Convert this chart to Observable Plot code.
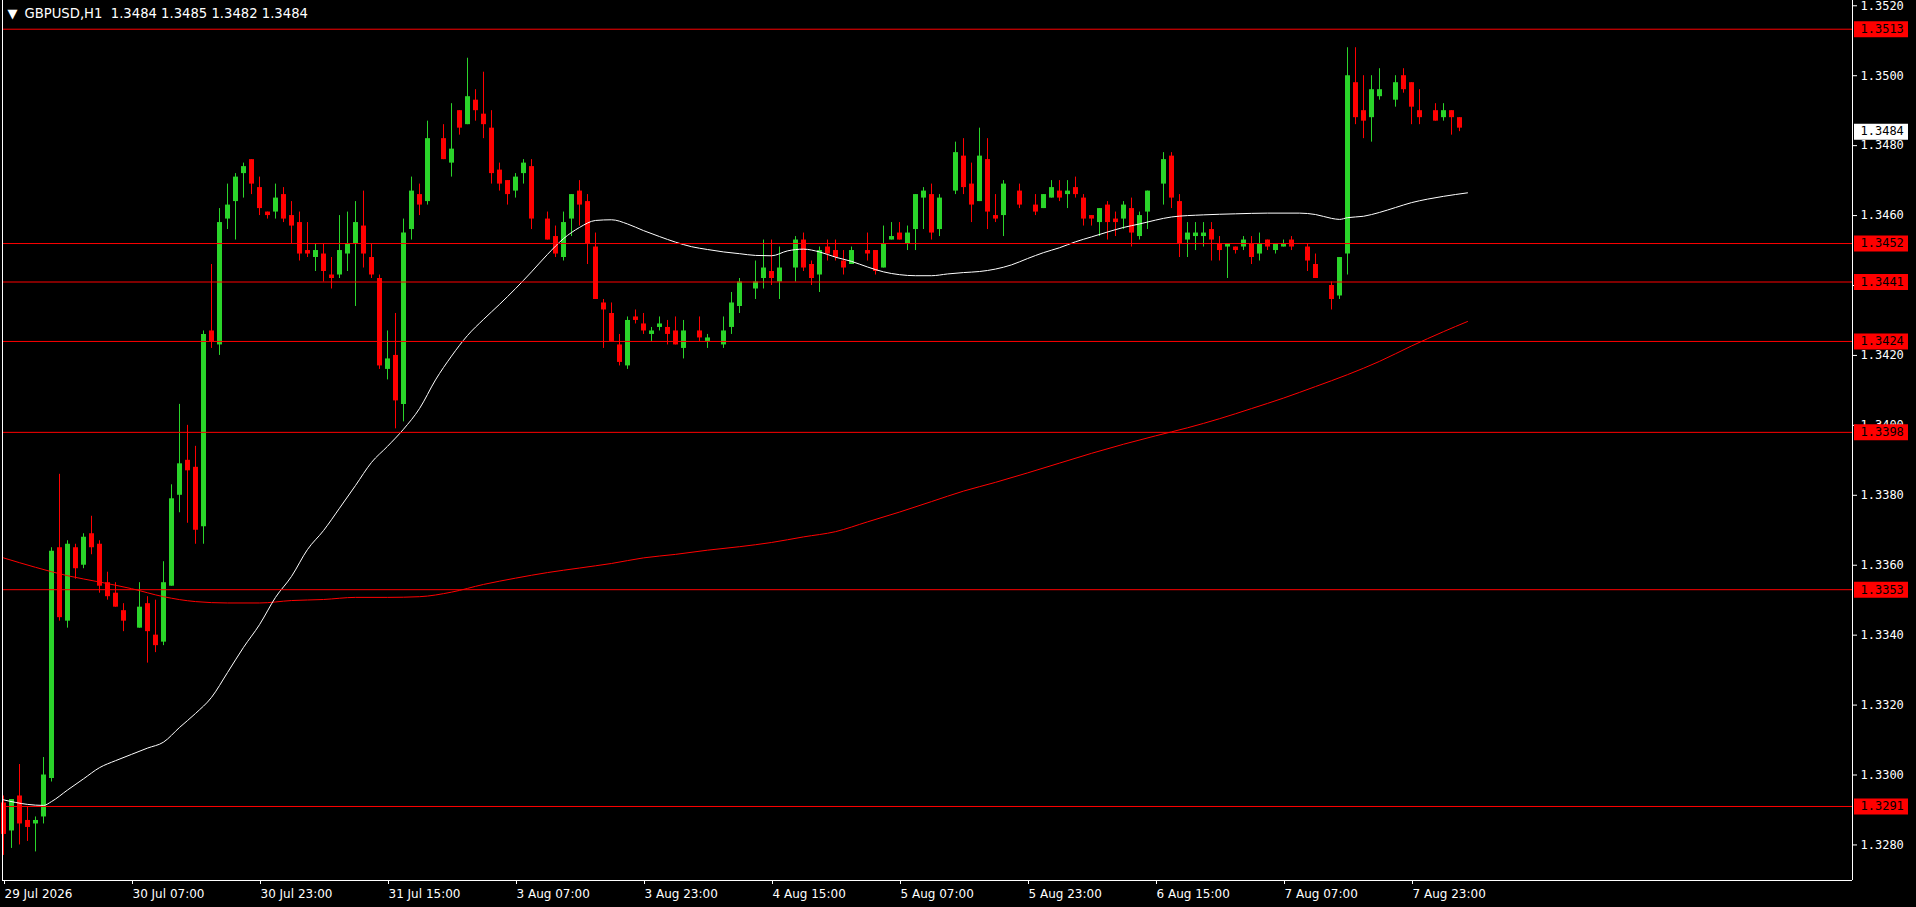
<!DOCTYPE html>
<html><head><meta charset="utf-8">
<script src="https://cdn.jsdelivr.net/npm/d3@7"></script>
<script src="https://cdn.jsdelivr.net/npm/@observablehq/plot@0.6"></script>
<style>
html,body{margin:0;padding:0;background:#000;overflow:hidden}
#chart{width:1916px;height:907px}
</style></head><body><div id="chart"></div>
<script>
// ---- data: GBPUSD H1 bars, index 0 = 29 Jul 2026 15:00 ----
const symbol = "GBPUSD,H1";
const open = [1.3292,1.3284,1.3294,1.3287,1.3286,1.3288,1.3299,1.3365,1.3344,1.3365,1.3360,1.3369,1.3366,1.3355,1.3352,1.3347,1.3343,1.3342,1.3349,1.3340,
1.3338,1.3354,1.3380,1.3390,1.3388,1.3371,1.3427,1.3423,1.3459,1.3464,1.3472,1.3476,1.3468,1.3461,1.3461,1.3466,1.3460,1.3458,1.3450,1.3448,
1.3449,1.3443,1.3443,1.3449,1.3452,1.3457,1.3448,1.3442,1.3416,1.3420,1.3406,1.3456,1.3466,1.3464,1.3482,1.3482,1.3475,1.3490,1.3486,1.3493,
1.3489,1.3485,1.3473,1.3470,1.3467,1.3472,1.3474,1.3459,1.3459,1.3454,1.3448,1.3459,1.3467,1.3464,1.3451,1.3435,1.3432,1.3423,1.3417,1.3431,
1.3429,1.3426,1.3428,1.3428,1.3427,1.3422,1.3427,1.3427,1.3424,1.3424,1.3423,1.3428,1.3434,1.3440,1.3439,1.3442,1.3444,1.3441,1.3445,1.3445,
1.3453,1.3446,1.3443,1.3451,1.3450,1.3447,1.3446,1.3450,1.3450,1.3450,1.3445,1.3453,1.3455,1.3452,1.3456,1.3465,1.3466,1.3456,1.3466,1.3467,
1.3477,1.3469,1.3464,1.3476,1.3460,1.3460,1.3468,1.3467,1.3463,1.3463,1.3462,1.3465,1.3467,1.3466,1.3468,1.3465,1.3460,1.3458,1.3463,1.3459,
1.3459,1.3462,1.3454,1.3461,1.3468,1.3469,1.3477,1.3464,1.3453,1.3454,1.3454,1.3456,1.3452,1.3451,1.3451,1.3451,1.3452,1.3449,1.3453,1.3450,
1.3451,1.3453,1.3451,1.3451,1.3446,1.3441,1.3440,1.3437,1.3449,1.3498,1.3490,1.3488,1.3494,1.3495,1.3493,1.3500,1.3498,1.3490,1.3489,1.3490,
1.3488,1.3490,1.3488,1.3484];
const high = [1.3294,1.3293,1.3303,1.3291,1.3288,1.3305,1.3365,1.3386,1.3367,1.3366,1.3369,1.3374,1.3367,1.3358,1.3355,1.3349,1.3343,1.3355,1.3351,1.3350,
1.3361,1.3383,1.3406,1.3400,1.3394,1.3427,1.3446,1.3462,1.3469,1.3472,1.3475,1.3476,1.3471,1.3461,1.3469,1.3468,1.3464,1.3461,1.3458,1.3452,
1.3452,1.3448,1.3460,1.3461,1.3464,1.3467,1.3452,1.3443,1.3427,1.3432,1.3459,1.3471,1.3469,1.3487,1.3482,1.3486,1.3492,1.3490,1.3505,1.3496,
1.3501,1.3490,1.3475,1.3470,1.3472,1.3476,1.3476,1.3459,1.3461,1.3457,1.3461,1.3466,1.3470,1.3466,1.3455,1.3436,1.3435,1.3426,1.3431,1.3433,
1.3432,1.3428,1.3431,1.3430,1.3431,1.3430,1.3427,1.3431,1.3426,1.3424,1.3431,1.3438,1.3442,1.3440,1.3447,1.3453,1.3453,1.3451,1.3445,1.3454,
1.3455,1.3447,1.3451,1.3453,1.3453,1.3450,1.3451,1.3450,1.3455,1.3450,1.3457,1.3458,1.3458,1.3457,1.3466,1.3468,1.3469,1.3466,1.3466,1.3481,
1.3482,1.3475,1.3485,1.3482,1.3466,1.3470,1.3468,1.3469,1.3463,1.3466,1.3466,1.3470,1.3470,1.3470,1.3471,1.3466,1.3460,1.3462,1.3464,1.3461,
1.3464,1.3465,1.3461,1.3467,1.3468,1.3478,1.3478,1.3466,1.3458,1.3458,1.3458,1.3458,1.3454,1.3452,1.3451,1.3454,1.3454,1.3455,1.3453,1.3452,
1.3453,1.3454,1.3451,1.3452,1.3449,1.3441,1.3441,1.3448,1.3508,1.3508,1.3500,1.3500,1.3502,1.3495,1.3500,1.3502,1.3498,1.3496,1.3489,1.3492,
1.3492,1.3490,1.3488,1.3485];
const low = [1.3277,1.3279,1.3280,1.3281,1.3278,1.3286,1.3298,1.3344,1.3342,1.3356,1.3359,1.3363,1.3352,1.3350,1.3348,1.3341,1.3343,1.3342,1.3332,1.3335,
1.3337,1.3354,1.3375,1.3372,1.3366,1.3366,1.3422,1.3420,1.3456,1.3453,1.3465,1.3466,1.3460,1.3459,1.3459,1.3458,1.3452,1.3447,1.3448,1.3444,
1.3441,1.3439,1.3442,1.3444,1.3434,1.3445,1.3442,1.3416,1.3413,1.3399,1.3401,1.3453,1.3460,1.3463,1.3482,1.3476,1.3471,1.3483,1.3486,1.3487,
1.3482,1.3469,1.3467,1.3463,1.3465,1.3469,1.3456,1.3459,1.3453,1.3448,1.3447,1.3454,1.3457,1.3446,1.3436,1.3422,1.3424,1.3417,1.3416,1.3429,
1.3426,1.3424,1.3427,1.3423,1.3423,1.3419,1.3427,1.3424,1.3422,1.3424,1.3422,1.3426,1.3432,1.3440,1.3436,1.3439,1.3440,1.3436,1.3445,1.3441,
1.3444,1.3440,1.3438,1.3447,1.3447,1.3443,1.3446,1.3450,1.3447,1.3443,1.3445,1.3453,1.3453,1.3450,1.3450,1.3456,1.3453,1.3454,1.3466,1.3466,
1.3466,1.3458,1.3464,1.3456,1.3458,1.3454,1.3468,1.3462,1.3463,1.3460,1.3462,1.3465,1.3464,1.3462,1.3465,1.3457,1.3457,1.3454,1.3453,1.3454,
1.3456,1.3451,1.3453,1.3456,1.3468,1.3463,1.3462,1.3448,1.3448,1.3450,1.3451,1.3447,1.3447,1.3442,1.3449,1.3450,1.3446,1.3447,1.3450,1.3449,
1.3451,1.3450,1.3451,1.3444,1.3442,1.3441,1.3433,1.3436,1.3443,1.3486,1.3482,1.3481,1.3493,1.3495,1.3491,1.3495,1.3486,1.3486,1.3489,1.3487,
1.3487,1.3483,1.3484,1.3482];
const close = [1.3283,1.3293,1.3286,1.3285,1.3287,1.3300,1.3364,1.3345,1.3366,1.3359,1.3368,1.3365,1.3354,1.3351,1.3348,1.3344,1.3343,1.3348,1.3341,1.3337,
1.3355,1.3379,1.3389,1.3387,1.3370,1.3426,1.3424,1.3458,1.3463,1.3471,1.3474,1.3469,1.3462,1.3460,1.3465,1.3459,1.3457,1.3449,1.3449,1.3450,
1.3444,1.3442,1.3450,1.3452,1.3458,1.3449,1.3443,1.3417,1.3419,1.3407,1.3455,1.3467,1.3463,1.3482,1.3482,1.3476,1.3479,1.3485,1.3494,1.3490,
1.3486,1.3472,1.3469,1.3466,1.3471,1.3475,1.3459,1.3459,1.3453,1.3449,1.3458,1.3466,1.3463,1.3452,1.3436,1.3433,1.3424,1.3418,1.3430,1.3430,
1.3427,1.3427,1.3429,1.3426,1.3423,1.3427,1.3427,1.3425,1.3425,1.3424,1.3427,1.3435,1.3441,1.3440,1.3441,1.3445,1.3442,1.3445,1.3445,1.3453,
1.3445,1.3442,1.3450,1.3449,1.3448,1.3445,1.3450,1.3450,1.3449,1.3444,1.3452,1.3454,1.3453,1.3455,1.3466,1.3467,1.3455,1.3465,1.3466,1.3478,
1.3468,1.3463,1.3477,1.3461,1.3459,1.3469,1.3468,1.3463,1.3463,1.3461,1.3466,1.3468,1.3465,1.3467,1.3466,1.3459,1.3459,1.3462,1.3458,1.3458,
1.3463,1.3455,1.3460,1.3467,1.3468,1.3476,1.3465,1.3452,1.3455,1.3455,1.3455,1.3453,1.3450,1.3452,1.3450,1.3453,1.3448,1.3452,1.3451,1.3452,
1.3452,1.3451,1.3451,1.3447,1.3442,1.3441,1.3436,1.3448,1.3500,1.3488,1.3487,1.3496,1.3496,1.3495,1.3498,1.3496,1.3491,1.3488,1.3489,1.3487,
1.3490,1.3488,1.3485,1.3484];

// moving averages (bar index -> value)
const fastIdx = [0,3,5,6,8,10,12,14,16,18,20,22,24,26,28,30,32,34,36,38,40,42,44,46,48,50,52,54,56,58,60,62,64,66,68,70,72,74,76,78,80,82,84,86,88,90,92,94,96,98,100,102,104,106,108,110,112,114,116,118,120,122,124,126,128,130,132,134,136,138,140,142,144,146,150,154,158,162,164,166,167,168,170,172,174,176,178,180,183];
const fastVal = [1.32929,1.32916,1.32913,1.32924,1.32957,1.32989,1.33021,1.33041,1.33059,1.33077,1.33094,1.33136,1.33176,1.33222,1.33293,1.33365,1.33430,1.33508,1.33568,1.33645,1.33699,1.33763,1.33828,1.33894,1.33940,1.33989,1.34048,1.34130,1.34198,1.34257,1.34303,1.34346,1.34391,1.34439,1.34489,1.34534,1.34566,1.34586,1.34588,1.34576,1.34557,1.34540,1.34524,1.34511,1.34503,1.34496,1.34491,1.34486,1.34485,1.34499,1.34504,1.34496,1.34481,1.34469,1.34453,1.34439,1.34431,1.34428,1.34428,1.34433,1.34437,1.34440,1.34447,1.34459,1.34477,1.34494,1.34508,1.34525,1.34539,1.34553,1.34566,1.34576,1.34587,1.34596,1.34602,1.34605,1.34607,1.34607,1.34603,1.34592,1.34589,1.34594,1.34598,1.34609,1.34623,1.34637,1.34647,1.34655,1.34665];
const slowIdx = [0,4,8,12,16,20,24,28,32,36,40,44,48,52,56,60,64,68,72,76,80,84,88,92,96,100,104,108,112,116,120,124,128,132,136,140,144,148,152,156,160,164,168,172,176,180,183];
const slowVal = [1.33621,1.33594,1.33570,1.33552,1.33533,1.33510,1.33496,1.33492,1.33492,1.33499,1.33502,1.33508,1.33508,1.33510,1.33523,1.33545,1.33563,1.33579,1.33592,1.33605,1.33621,1.33631,1.33643,1.33653,1.33665,1.33681,1.33696,1.33724,1.33752,1.33782,1.33812,1.33837,1.33864,1.33892,1.33920,1.33946,1.33970,1.33993,1.34019,1.34048,1.34078,1.34111,1.34145,1.34183,1.34227,1.34268,1.34297];

// horizontal levels
const levels = [1.35133,1.3452,1.3441,1.3424,1.3398,1.3353,1.3291];
// axis ticks
const yTicks = [1.3280,1.3300,1.3320,1.3340,1.3360,1.3380,1.3400,1.3420,1.3440,1.3460,1.3480,1.3500,1.3520];
const xTickIdx = [0,16,32,48,64,80,96,112,128,144,160,176];
const xTickLabel = ["29 Jul 2026","30 Jul 07:00","30 Jul 23:00","31 Jul 15:00","3 Aug 07:00","3 Aug 23:00","4 Aug 15:00","5 Aug 07:00","5 Aug 23:00","6 Aug 15:00","7 Aug 07:00","7 Aug 23:00"];

// ---- build ----
const bars = open.map((o, i) => ({i, o, h: high[i], l: low[i], c: close[i]}));
const up = bars.filter(d => d.c > d.o);
const down = bars.filter(d => d.c < d.o);
const doji = bars.filter(d => d.c === d.o);
const fast = fastIdx.map((i, k) => ({i, v: fastVal[k]}));
const slow = slowIdx.map((i, k) => ({i, v: slowVal[k]}));
const last = bars[bars.length - 1];
const f4 = d => d.toFixed(4);

const W = 1916, H = 907, mL = 2, mR = 64, mT = 0, mB = 27;
const xDomain = [-0.125, 231.125];
const yDomain = [1.326983, 1.352151];
const xs = d3.scaleLinear().domain(xDomain).range([mL, W - mR]);
const tagX1 = xs.invert(1854), tagX2 = xs.invert(1908);

const GREEN = "#2ad42a", RED = "#ff0000", WHITE = "#ffffff";
const FONT = "DejaVu Sans";

const chart = Plot.plot({
  width: W, height: H,
  marginLeft: mL, marginRight: mR, marginTop: mT, marginBottom: mB,
  style: {background: "#000", color: WHITE, fontFamily: FONT},
  x: {type: "linear", domain: xDomain, axis: null},
  y: {domain: yDomain, axis: null},
  marks: [
    // wicks
    Plot.ruleX(up, {x: "i", y1: "l", y2: "h", stroke: GREEN, strokeWidth: 1}),
    Plot.ruleX(down, {x: "i", y1: "l", y2: "h", stroke: RED, strokeWidth: 1}),
    Plot.ruleX(doji, {x: "i", y1: "l", y2: "h", stroke: "#000", strokeWidth: 1}),
    // bodies
    Plot.ruleX(up, {x: "i", y1: "o", y2: "c", stroke: GREEN, strokeWidth: 5}),
    Plot.ruleX(down, {x: "i", y1: "o", y2: "c", stroke: RED, strokeWidth: 5}),
    // moving averages
    Plot.line(slow, {x: "i", y: "v", stroke: RED, strokeWidth: 1, curve: "monotone-x"}),
    Plot.line(fast, {x: "i", y: "v", stroke: WHITE, strokeWidth: 1, curve: "monotone-x"}),
    // horizontal levels
    Plot.ruleY(levels, {y: d => d, stroke: RED, strokeWidth: 1}),
    // frame (left, right, bottom)
    Plot.ruleX(xDomain, {x: d => d, stroke: WHITE, strokeWidth: 1}),
    Plot.ruleY([yDomain[0]], {y: d => d, stroke: WHITE, strokeWidth: 1}),
    // axes
    Plot.axisY(yTicks, {anchor: "right", tickSize: 4, tickPadding: 4, tickFormat: f4,
      fill: WHITE, stroke: WHITE, fontSize: 12, fontFamily: "DejaVu Sans Mono", label: null}),
    Plot.axisX(xTickIdx, {anchor: "bottom", tickSize: 4, tickPadding: 5,
      tickFormat: d => xTickLabel[xTickIdx.indexOf(d)], textAnchor: "start", dx: 1,
      fill: WHITE, stroke: WHITE, fontSize: 12, fontFamily: FONT, label: null}),
    // level tags
    Plot.ruleY(levels, {y: d => d, x1: tagX1, x2: tagX2, stroke: RED, strokeWidth: 16}),
    Plot.text(levels, {y: d => d, frameAnchor: "right", dx: 8, textAnchor: "start", text: f4,
      fill: "#000", fontSize: 12, fontFamily: "DejaVu Sans Mono"}),
    // current price tag
    Plot.ruleY([last.c], {y: d => d, x1: tagX1, x2: tagX2, stroke: WHITE, strokeWidth: 16}),
    Plot.text([last.c], {y: d => d, frameAnchor: "right", dx: 8, textAnchor: "start", text: f4,
      fill: "#000", fontSize: 12, fontFamily: "DejaVu Sans Mono"}),
    // title
    Plot.text(["\u25BC"], {frameAnchor: "top-left", dx: 5, dy: 13, lineAnchor: "middle",
      fill: WHITE, fontSize: 13}),
    Plot.text([`${symbol}\u00a0\u00a0${f4(last.o)} ${f4(last.h)} ${f4(last.l)} ${f4(last.c)}`],
      {frameAnchor: "top-left", dx: 22, dy: 13, lineAnchor: "middle", fill: WHITE, fontSize: 13.2, fontFamily: FONT})
  ]
});
document.getElementById("chart").appendChild(chart);
</script>
</body></html>
